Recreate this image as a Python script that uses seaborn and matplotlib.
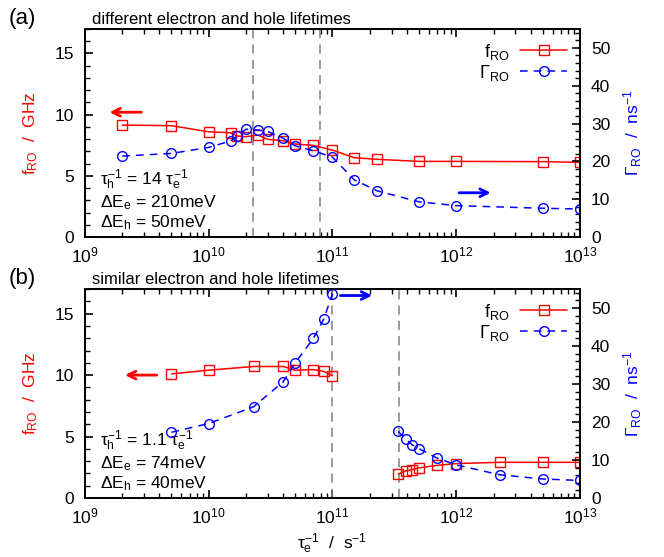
import matplotlib
matplotlib.use("Agg")
import matplotlib.pyplot as plt
from matplotlib.lines import Line2D
from matplotlib.ticker import MultipleLocator, LogLocator, NullFormatter
import seaborn as sns

# Panel (a): different electron and hole lifetimes
a_rate = [2e9, 5e9, 1e10, 1.5e10, 1.7e10, 2e10, 2.5e10, 3e10, 4e10, 5e10, 7e10,
          1e11, 1.5e11, 2.3e11, 5e11, 1e12, 5e12, 1e13]
a_f = [9.15, 9.1, 8.6, 8.52, 8.25, 8.2, 8.33, 7.98, 7.87, 7.6, 7.49,
       7.1, 6.48, 6.35, 6.18, 6.18, 6.16, 6.1]
a_gamma = [21.4, 22.1, 23.7, 25.4, 26.7, 28.5, 28.3, 27.9, 26.1, 24.1, 22.8,
           21.1, 15.1, 12.2, 9.3, 8.3, 7.6, 7.4]
a_vlines = [2.27e10, 7.9e10]

# Panel (b): similar electron and hole lifetimes (two branches)
b_rate_low = [5e9, 1e10, 2.3e10, 4e10, 5e10, 7e10, 8.5e10, 1e11]
b_f_low = [10.1, 10.4, 10.7, 10.7, 10.4, 10.45, 10.3, 9.95]
b_gamma_low = [17.3, 19.6, 24.0, 30.6, 35.6, 42.0, 47.1, 53.8]
b_rate_high = [3.4e11, 3.9e11, 4.4e11, 5e11, 7e11, 1e12, 2.25e12, 5e12, 1e13]
b_f_high = [1.95, 2.2, 2.3, 2.45, 2.65, 2.8, 2.9, 2.9, 2.9]
b_gamma_high = [17.5, 15.5, 14.0, 13.0, 10.5, 8.7, 6.1, 5.0, 4.6]
b_vlines = [1e11, 3.43e11]

titles = ["different electron and hole lifetimes", "similar electron and hole lifetimes"]
params = [[r"$\tau_h^{-1}$ = 14 $\tau_e^{-1}$", r"$\Delta E_e$ = 210meV", r"$\Delta E_h$ = 50meV"],
          [r"$\tau_h^{-1}$ = 1.1 $\tau_e^{-1}$", r"$\Delta E_e$ = 74meV", r"$\Delta E_h$ = 40meV"]]

sns.set_style("ticks")
plt.rcParams["font.family"] = ["Liberation Sans", "DejaVu Sans"]
plt.rcParams["mathtext.fontset"] = "custom"
plt.rcParams["mathtext.rm"] = "Liberation Sans"
plt.rcParams["mathtext.it"] = "Liberation Sans"
plt.rcParams["mathtext.bf"] = "Liberation Sans:bold"
plt.rcParams["axes.linewidth"] = 1.3
for key in ["text.color", "axes.labelcolor", "xtick.color", "ytick.color", "axes.edgecolor"]:
    plt.rcParams[key] = "black"

RED = "#ff0000"
BLUE = "#0000ff"

fig = plt.figure(figsize=(6.64, 5.57), dpi=100)
ax_a = fig.add_axes([0.128, 0.5745, 0.7455, 0.3734])
ax_b = fig.add_axes([0.128, 0.106, 0.7455, 0.375])


def draw_f(ax, x, y):
    sns.lineplot(x=x, y=y, ax=ax, color=RED, lw=1.1, marker="s", markersize=7,
                 markerfacecolor="none", markeredgecolor=RED, markeredgewidth=1.0,
                 sort=False, estimator=None)


def draw_g(ax, x, y):
    sns.lineplot(x=x, y=y, ax=ax, color=BLUE, lw=1.1, marker="o", markersize=7,
                 markerfacecolor="none", markeredgecolor=BLUE, markeredgewidth=1.0,
                 linestyle=(0, (5, 4)), sort=False, estimator=None)


def style(ax, ax2):
    ax.set_xscale("log")
    ax.set_xlim(1e9, 1e13)
    ax.set_ylim(0, 17)
    ax2.set_ylim(0, 55)
    ax.xaxis.set_major_locator(LogLocator(base=10, numticks=10))
    ax.xaxis.set_minor_locator(LogLocator(base=10, subs=range(2, 10), numticks=20))
    ax.xaxis.set_minor_formatter(NullFormatter())
    ax.yaxis.set_major_locator(MultipleLocator(5))
    ax.yaxis.set_minor_locator(MultipleLocator(1))
    ax2.yaxis.set_major_locator(MultipleLocator(10))
    ax2.yaxis.set_minor_locator(MultipleLocator(2))
    ax.tick_params(axis="x", which="both", direction="in", top=True, bottom=True,
                   labelsize=12.5, pad=6)
    ax.tick_params(axis="y", which="both", direction="in", left=True, right=False,
                   labelsize=12.5, pad=8)
    ax.tick_params(which="major", length=6, width=1.2)
    ax.tick_params(which="minor", length=3.5, width=1.0)
    ax2.tick_params(axis="y", which="both", direction="in", right=True, left=False,
                    labelsize=12.5, pad=8)
    ax2.tick_params(which="major", length=6, width=1.2)
    ax2.tick_params(which="minor", length=3.5, width=1.0)
    ax.set_ylabel(r"f$_{RO}$  /  GHz", color=RED, fontsize=12.5, labelpad=10)
    ax2.set_ylabel(r"$\Gamma_{RO}$  /  ns$^{-1}$", color=BLUE, fontsize=12.5, labelpad=8)
    ax.set_xlabel("")
    handles = [Line2D([], [], color=RED, lw=1.1, marker="s", markersize=7,
                      markerfacecolor="none", markeredgecolor=RED),
               Line2D([], [], color=BLUE, lw=1.1, marker="o", markersize=7,
                      markerfacecolor="none", markeredgecolor=BLUE, linestyle=(0, (5, 4)))]
    ax2.legend(handles, [r"f$_{RO}$", r"$\Gamma_{RO}$"], loc="upper right", frameon=False,
               markerfirst=False, fontsize=13, handlelength=2.6, borderaxespad=0.3,
               labelspacing=0.05, handletextpad=0.6)


arrow_kw = dict(arrowstyle="->", lw=2, mutation_scale=14)

# ---- panel (a)
ax_a2 = ax_a.twinx()
for v in a_vlines:
    ax_a.axvline(v, color="gray", ls=(0, (6, 4)), lw=1.1)
draw_f(ax_a, a_rate, a_f)
draw_g(ax_a2, a_rate, a_gamma)
style(ax_a, ax_a2)
ax_a.annotate("", xy=(1.5e9, 10.2), xytext=(3.0e9, 10.2),
              arrowprops=dict(color=RED, **arrow_kw))
ax_a2.annotate("", xy=(2.0e12, 11.7), xytext=(1.0e12, 11.7),
               arrowprops=dict(color=BLUE, **arrow_kw))

# ---- panel (b)
ax_b2 = ax_b.twinx()
for v in b_vlines:
    ax_b.axvline(v, color="gray", ls=(0, (6, 4)), lw=1.1)
draw_f(ax_b, b_rate_low, b_f_low)
draw_f(ax_b, b_rate_high, b_f_high)
draw_g(ax_b2, b_rate_low, b_gamma_low)
draw_g(ax_b2, b_rate_high, b_gamma_high)
style(ax_b, ax_b2)
ax_b.annotate("", xy=(2.0e9, 10.0), xytext=(4.0e9, 10.0),
              arrowprops=dict(color=RED, **arrow_kw))
ax_b2.annotate("", xy=(2.2e11, 53.3), xytext=(1.1e11, 53.3),
               arrowprops=dict(color=BLUE, **arrow_kw))
ax_b.set_xlabel(r"$\tau_e^{-1}$  /  s$^{-1}$", fontsize=12.5, labelpad=4)

# titles, panel letters, parameter text
for ax, title, lines, letter in zip([ax_a, ax_b], titles, params, ["(a)", "(b)"]):
    ax.text(0.015, 1.008, title, transform=ax.transAxes, fontsize=12, ha="left", va="bottom")
    ax.text(-0.155, 1.0, letter, transform=ax.transAxes, fontsize=16, ha="left", va="bottom")
    for txt, yy in zip(lines, [0.275, 0.165, 0.07]):
        ax.text(0.03, yy, txt, transform=ax.transAxes, fontsize=12.5, ha="left", va="center")

fig.savefig("out.png", dpi=100)
